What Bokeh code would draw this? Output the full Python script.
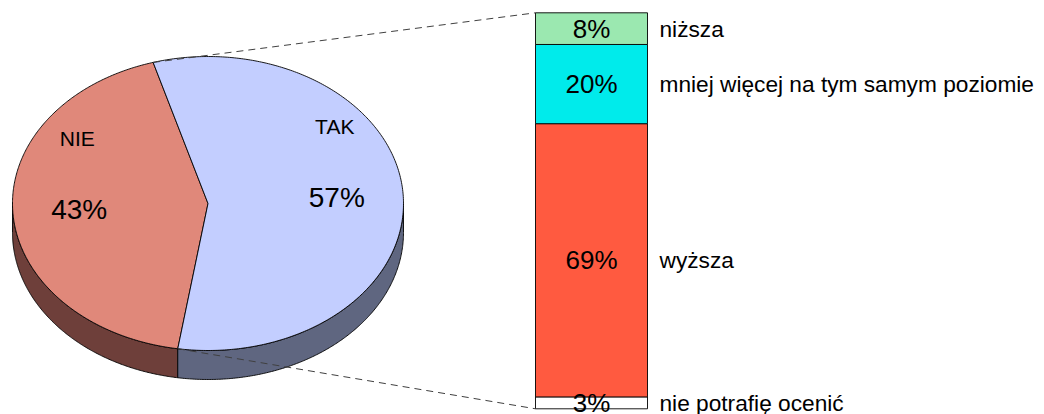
import numpy as np
from bokeh.plotting import figure
from bokeh.models import Range1d
from bokeh.core.properties import value
from bokeh.embed import file_html
from bokeh.resources import INLINE

# ---- data ----
pie_labels = ["NIE", "TAK"]
pie_values = [43, 57]
bar_labels = ["nie potrafię ocenić", "wyższa", "mniej więcej na tym samym poziomie", "niższa"]
bar_values = [3, 69, 20, 8]

# ---- style / layout ----
W, H = 1036, 414
FONT = value("Liberation Sans")
pie_top_colors = ["#E0887A", "#C3CEFF"]
pie_side_colors = ["#6E3F3A", "#5F6680"]
bar_colors = ["#FFFFFF", "#FF5A40", "#00EBEB", "#9BE8B0"]
CX, CY, RX, RY, DEPTH = 207.5, 203.0, 195.5, 147.0, 29.0
START = 106.3
BAR_L, BAR_R, BAR_TOP, BAR_BOT = 535.0, 647.0, 12.3, 408.3

p = figure(width=W, height=H, x_range=Range1d(0, W), y_range=Range1d(H, 0),
           output_backend="svg", toolbar_location=None, min_border=0)
p.axis.visible = False
p.grid.visible = False
p.outline_line_color = None
p.background_fill_color = "white"
p.border_fill_color = "white"


def ell(th):
    t = np.radians(th)
    return CX + RX * np.cos(t), CY - RY * np.sin(t)


total = float(sum(pie_values))
bounds = [START]
for v in pie_values:
    bounds.append(bounds[-1] + 360.0 * v / total)

# sides (front half only)
sx, sy, sc = [], [], []
for i in range(len(pie_values)):
    a0, a1 = bounds[i], bounds[i + 1]
    for k in range(0, 2):
        lo, hi = max(a0, 180 + 360 * k), min(a1, 360 + 360 * k)
        if hi > lo:
            th = np.linspace(lo, hi, 200)
            x, y = ell(th)
            sx.append(list(x) + list(x[::-1]))
            sy.append(list(y) + list((y + DEPTH)[::-1]))
            sc.append(pie_side_colors[i])
p.patches(sx, sy, fill_color=sc, line_color="black", line_width=0.9)

# top faces
tx, ty = [], []
for i in range(len(pie_values)):
    th = np.linspace(bounds[i], bounds[i + 1], 300)
    x, y = ell(th)
    tx.append([CX] + list(x))
    ty.append([CY] + list(y))
p.patches(tx, ty, fill_color=pie_top_colors, line_color="black", line_width=0.9)

# pie labels
mids = [(bounds[i] + bounds[i + 1]) / 2 for i in range(len(pie_values))]
px, py = ell(np.array(mids))
px = CX + (px - CX) * 0.66
py = CY + (py - CY) * 0.66
p.text(x=list(px), y=list(py), text=[f"{v}%" for v in pie_values], text_font=FONT,
       text_font_size="28px", text_align="center", text_baseline="middle", text_color="black")
p.text(x=list(px - 2), y=list(py - 71), text=pie_labels, text_font=FONT,
       text_font_size="21px", text_align="center", text_baseline="middle", text_color="black")

# bar
scale = (BAR_BOT - BAR_TOP) / float(sum(bar_values))
cum = np.concatenate([[0], np.cumsum(bar_values)])
bottoms = BAR_BOT - cum[:-1] * scale
tops = BAR_BOT - cum[1:] * scale
p.quad(left=BAR_L, right=BAR_R, bottom=list(bottoms), top=list(tops),
       fill_color=bar_colors, line_color="black", line_width=0.9)
mid_y = list((bottoms + tops) / 2)
p.text(x=[(BAR_L + BAR_R) / 2] * len(bar_values), y=mid_y, text=[f"{v}%" for v in bar_values],
       text_font=FONT, text_font_size="26px", text_align="center", text_baseline="middle",
       text_color="black")
p.text(x=[659.0] * len(bar_values), y=mid_y, text=bar_labels, text_font=FONT,
       text_font_size="22.7px", text_align="left", text_baseline="middle", text_color="black")

# connector dashed lines
x0s, y0s = ell(np.array([bounds[0], bounds[1]]))
p.segment(x0=list(x0s), y0=list(y0s), x1=[BAR_L, BAR_L], y1=[BAR_TOP, BAR_BOT],
          line_color="#404040", line_width=1, line_dash="7 5")

open("out.html", "w").write(file_html(p, INLINE))
